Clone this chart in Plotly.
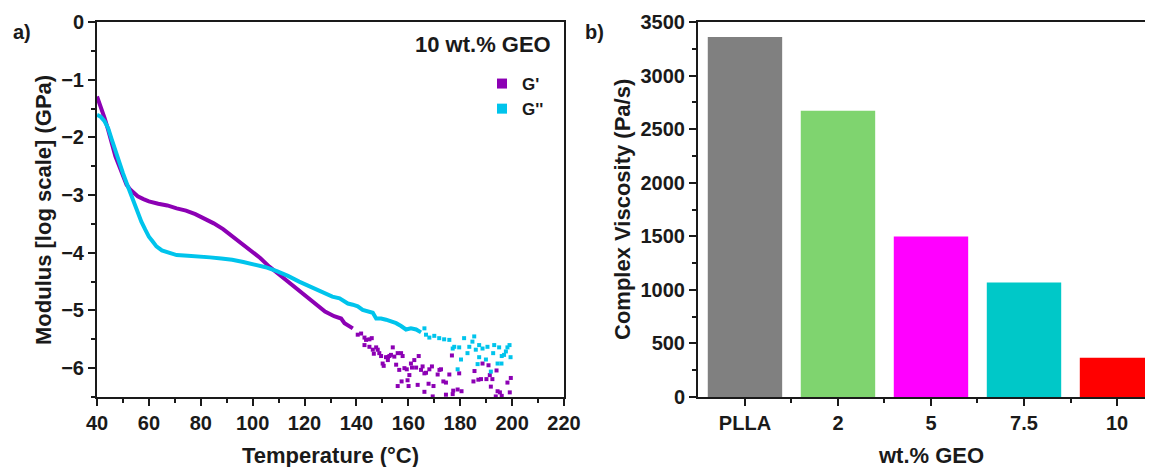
import plotly.graph_objects as go

# page body adds an 8px margin, so the figure is laid out in shifted pixels
OFF = 8
W, H = 1153 - OFF, 467 - OFF


def fx(px):
    return (px - OFF) / W


def fy(py):
    return (H - (py - OFF)) / H


# ---- panel a) modulus vs temperature (read off the picture) ----
gp_T = [40, 41.4, 42.9, 44.3, 45.7, 47.1, 48.6, 50.0, 51.4, 52.9, 54.3, 55.7, 57.9, 60.0,
        63.6, 67.1, 70.7, 74.3, 77.9, 81.4, 85.0, 88.6, 92.1, 95.7, 99.3, 102.9, 106.4,
        110.0, 113.6, 117.1, 120.7, 124.3, 127.9, 131.4, 134.1, 135.4, 136.7, 138.6]
gp_v = [-1.29, -1.46, -1.66, -1.87, -2.10, -2.33, -2.50, -2.68, -2.82, -2.91, -2.97, -3.02, -3.07, -3.11,
        -3.15, -3.18, -3.23, -3.27, -3.33, -3.40, -3.49, -3.59, -3.71, -3.83, -3.96, -4.09, -4.24,
        -4.37, -4.51, -4.64, -4.76, -4.88, -5.02, -5.10, -5.14, -5.22, -5.25, -5.31]

gp_scat_T = [140.5, 141.8, 143.1, 143.7, 145.0, 145.9, 143.1, 145.0, 146.3, 147.6, 148.2, 148.8, 146.7,
             149.5, 150.1, 150.5, 151.4, 152.1, 152.1, 152.7, 153.3, 154.0, 154.6, 155.3, 155.9, 156.5,
             157.2, 157.8, 158.5, 159.4, 160.4, 161.0, 161.4, 162.3, 163.0, 164.0, 164.9, 165.5, 166.2,
             166.8, 168.1, 169.1, 157.4, 155.9, 159.7, 160.1, 163.6, 166.2, 167.8, 169.7, 169.4, 171.3,
             172.0, 172.6, 173.5, 174.5, 174.5, 175.8, 176.8, 177.3, 177.1, 179.0, 179.6, 180.5, 185.1,
             185.5, 187.0, 188.0, 188.6, 190.1, 190.9, 191.4, 191.8, 192.4, 194.0, 194.4, 195.3, 193.7,
             196.0, 198.2, 199.1, 199.5]
gp_scat_v = [-5.42, -5.40, -5.47, -5.51, -5.50, -5.48, -5.60, -5.63, -5.68, -5.64, -5.68, -5.74, -5.75,
             -5.79, -5.92, -5.96, -5.81, -5.81, -5.86, -5.79, -5.77, -5.64, -5.80, -5.94, -5.74, -6.03,
             -5.74, -5.79, -6.00, -6.02, -6.12, -5.92, -5.99, -5.86, -5.99, -5.79, -6.03, -5.97, -6.09,
             -6.08, -6.02, -5.97, -6.23, -6.31, -6.21, -6.31, -6.29, -6.41, -6.27, -6.31, -6.49, -6.11,
             -6.03, -6.02, -6.23, -6.25, -6.46, -6.11, -5.78, -6.39, -6.45, -6.37, -6.09, -6.40, -6.23,
             -6.05, -6.20, -6.19, -5.92, -6.19, -5.95, -6.12, -6.32, -6.19, -6.04, -6.40, -6.42, -6.49,
             -6.48, -6.25, -6.42, -6.17]

gpp_T = [40, 41.4, 42.9, 44.3, 45.7, 47.1, 48.6, 50.0, 51.4, 52.9, 54.3, 55.7, 57.1, 58.6, 60.0,
         61.4, 62.9, 65.0, 67.9, 70.7, 75.0, 79.3, 83.6, 87.9, 92.1, 96.4, 100.7, 105.0, 109.3,
         113.6, 117.9, 122.1, 126.4, 130.7, 133.5, 134.7, 136.7, 138.6, 140.5, 142.4, 144.4, 146.3,
         147.6, 149.5, 151.4, 153.3, 155.3, 157.2, 159.1, 161.0, 163.0, 164.9]
gpp_v = [-1.61, -1.64, -1.72, -1.84, -2.04, -2.24, -2.45, -2.62, -2.79, -2.97, -3.14, -3.31, -3.46, -3.60, -3.72,
         -3.80, -3.89, -3.96, -4.01, -4.04, -4.05, -4.06, -4.08, -4.10, -4.12, -4.16, -4.20, -4.25, -4.32,
         -4.40, -4.50, -4.58, -4.67, -4.76, -4.79, -4.82, -4.88, -4.90, -4.93, -4.99, -5.02, -5.04,
         -5.14, -5.14, -5.16, -5.19, -5.22, -5.27, -5.33, -5.31, -5.33, -5.38]

gpp_scat_T = [166.2, 166.8, 168.1, 170.0, 171.9, 173.8, 175.8, 177.1, 177.7, 179.6, 180.3, 181.5, 182.8,
              183.5, 184.7, 185.4, 186.0, 186.7, 187.3, 187.3, 188.6, 189.9, 190.5, 191.8, 192.7, 193.1,
              194.4, 195.0, 196.0, 196.9, 197.6, 198.2, 199.0, 199.4, 179.0, 195.9]
gpp_scat_v = [-5.31, -5.42, -5.47, -5.44, -5.48, -5.50, -5.51, -5.66, -5.63, -5.64, -5.85, -5.48, -5.74,
              -5.63, -5.54, -5.45, -5.68, -5.93, -5.81, -5.60, -5.66, -5.85, -5.63, -6.06, -5.74, -5.60,
              -5.92, -5.64, -5.79, -5.77, -5.71, -5.64, -5.60, -5.81, -6.02, -5.92]

# ---- panel b) complex viscosity ----
categories = ["PLLA", "2", "5", "7.5", "10"]
viscosity = [3360, 2672, 1497, 1068, 366]
bar_colors = ["#808080", "#7fd46f", "#ff00ff", "#00c8c8", "#ff0000"]

purple = "#8c00b4"
cyan = "#00c4ec"
ink = "#1a1a1a"

fig = go.Figure()

# G' line part + scatter part
fig.add_trace(go.Scatter(x=gp_T, y=gp_v, mode="lines", line=dict(color=purple, width=4),
                         showlegend=False, xaxis="x", yaxis="y"))
fig.add_trace(go.Scatter(x=gp_scat_T, y=gp_scat_v, mode="markers",
                         marker=dict(symbol="square", size=4, color=purple),
                         showlegend=False, xaxis="x", yaxis="y"))
fig.add_trace(go.Scatter(x=gpp_T, y=gpp_v, mode="lines", line=dict(color=cyan, width=4),
                         showlegend=False, xaxis="x", yaxis="y"))
fig.add_trace(go.Scatter(x=gpp_scat_T, y=gpp_scat_v, mode="markers",
                         marker=dict(symbol="square", size=4, color=cyan),
                         showlegend=False, xaxis="x", yaxis="y"))
# legend entries
fig.add_trace(go.Scatter(x=[None], y=[None], mode="markers", name="G'",
                         marker=dict(symbol="square", size=10, color=purple), xaxis="x", yaxis="y"))
fig.add_trace(go.Scatter(x=[None], y=[None], mode="markers", name="G''",
                         marker=dict(symbol="square", size=10, color=cyan), xaxis="x", yaxis="y"))

fig.add_trace(go.Bar(x=list(range(len(categories))), y=viscosity, width=0.8,
                     marker=dict(color=bar_colors, line=dict(width=0)),
                     showlegend=False, xaxis="x2", yaxis="y2"))

ydom = [fy(397), fy(22)]
axis_common = dict(showline=True, linewidth=2, linecolor=ink, ticks="outside", ticklen=7,
                   tickwidth=2, tickcolor=ink, showgrid=False, zeroline=False, automargin=False,
                   tickfont=dict(size=20, color=ink, weight="bold"))

fig.update_layout(
    width=W, height=H,
    margin=dict(l=0, r=0, t=0, b=0),
    paper_bgcolor="white", plot_bgcolor="white",
    font=dict(family="Liberation Sans, Arial, sans-serif", color=ink, weight="bold"),
    xaxis=dict(domain=[fx(97), fx(564)], range=[40, 220], dtick=20, mirror=True, anchor="y",
               minor=dict(dtick=10, ticks="outside", ticklen=4, tickwidth=2, tickcolor=ink),
               **axis_common),
    yaxis=dict(domain=ydom, range=[-6.5, 0], dtick=1, mirror=True, anchor="x",
               minor=dict(dtick=0.5, ticks="outside", ticklen=4, tickwidth=2, tickcolor=ink),
               **axis_common),
    xaxis2=dict(domain=[fx(698), 1.0], range=[-0.505, 4.387], anchor="y2", mirror=True,
                tickvals=list(range(len(categories))), ticktext=categories,
                minor=dict(tickvals=[0.5, 1.5, 2.5, 3.5], ticks="outside", ticklen=4,
                           tickwidth=2, tickcolor=ink),
                **axis_common),
    yaxis2=dict(domain=ydom, range=[0, 3500], dtick=500, anchor="x2", mirror=False,
                minor=dict(dtick=250, ticks="outside", ticklen=4, tickwidth=2, tickcolor=ink),
                **axis_common),
    legend=dict(x=fx(482), y=fy(66), xanchor="left", yanchor="top",
                bgcolor="rgba(0,0,0,0)", font=dict(size=17, color=ink, weight="bold"),
                tracegroupgap=0),
    bargap=0.2,
)

ann = [
    ("a)", 22, 32, 20, 0, "center"),
    ("b)", 594, 32, 20, 0, "center"),
    ("10 wt.% GEO", 553, 45, 22, 0, "right"),
    ("Temperature (°C)", 330.5, 455, 22, 0, "center"),
    ("wt.% GEO", 931, 455, 22, 0, "center"),
    ("Modulus [log scale] (GPa)", 43, 210, 22, -90, "center"),
    ("Complex Viscosity (Pa/s)", 622, 210, 22, -90, "center"),
]
for text, px, py, size, ang, xa in ann:
    fig.add_annotation(text=text, x=fx(px), y=fy(py), xref="paper", yref="paper",
                       xanchor=xa, yanchor="middle", showarrow=False, textangle=ang,
                       font=dict(size=size, color=ink, weight="bold"))

fig.write_html("out.html")
